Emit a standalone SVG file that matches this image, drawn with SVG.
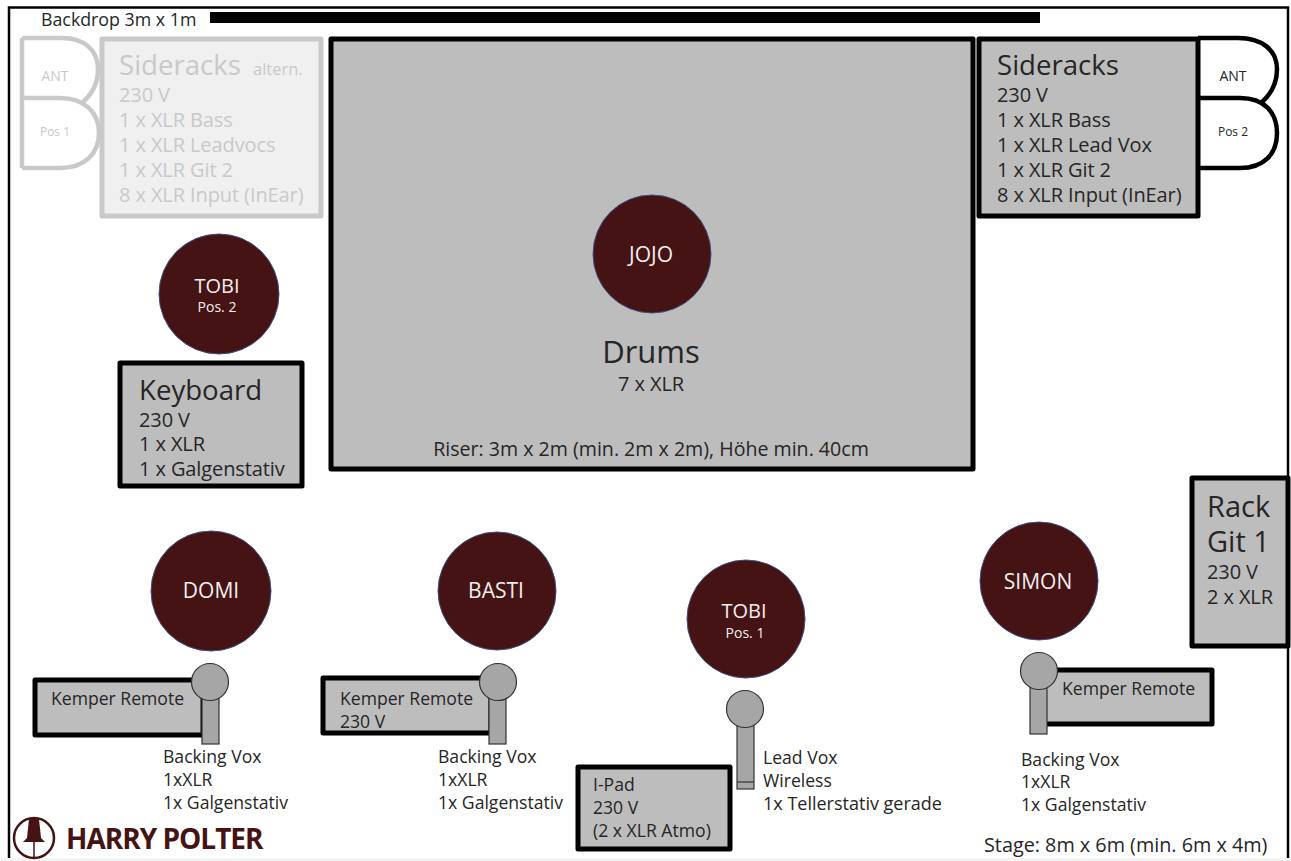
<svg xmlns="http://www.w3.org/2000/svg" width="1291" height="861" viewBox="0 0 1291 861">
<defs>
<style>
text{font-family:"Open Sans","Noto Sans","Liberation Sans",sans-serif;fill:#262626}
.box{fill:#bdbdbd;stroke:#000;stroke-width:5;stroke-linejoin:round}
.ghost{fill:#f0f0f0;stroke:#c9c9c9;stroke-width:5;stroke-linejoin:round}
.ant{fill:#fff;stroke:#000;stroke-width:4.5}
.antg{fill:#fff;stroke:#c9c9c9;stroke-width:4.5}
.p{fill:#451313;stroke:#3f4f86;stroke-width:1}
.pt{fill:#f2eeee;text-anchor:middle;font-size:21px}
.ps{fill:#f2eeee;text-anchor:middle;font-size:14px}
.m{fill:#a6a6a6;stroke:#333;stroke-width:1.2}
.t14{font-size:17.6px}
.t17{font-size:20px;letter-spacing:-.1px}
.t27{font-size:27.6px}
.g{fill:#c9c9c9}
</style>
</defs>
<rect width="1291" height="861" fill="#fff"/>
<path d="M9 861V7.5H1288V861" fill="none" stroke="#000" stroke-width="2.5"/>
<rect x="0" y="858" width="1291" height="3" fill="#f4f4f4"/>
<g id="backdrop"><rect x="210" y="12" width="830" height="11" fill="#000"/><text x="41" y="26" style="font-size:17.800px">Backdrop 3m x 1m</text></g>
<g id="riser"><rect class="box" x="331" y="39" width="642" height="430"/><text x="651" y="363" text-anchor="middle" style="font-size:31px">Drums</text><text x="651" y="391" text-anchor="middle" class="t17">7 x XLR</text><text x="651" y="456" text-anchor="middle" style="font-size:19.600px">Riser: 3m x 2m (min. 2m x 2m), Höhe min. 40cm</text></g>
<g id="siderack-left"><path class="antg" d="M22 38H62C84 38 98 50 98 69C98 84 92 94 83 102"/><path class="antg" d="M22 38V168M22 98H60C84 98 99 112 99 133C99 154 84 168 60 168H22"/><text x="55" y="81" text-anchor="middle" class="g" style="font-size:14px">ANT</text><text x="55" y="136" text-anchor="middle" class="g" style="font-size:12px">Pos 1</text><rect class="ghost" x="102" y="39" width="219" height="177"/><text x="119" y="75" class="g t27">Sideracks</text><text x="253" y="75" class="g" style="font-size:16.500px">altern.</text><text x="119" y="102" class="g t17">230 V</text><text x="119" y="127" class="g t17">1 x XLR Bass</text><text x="119" y="152" class="g t17">1 x XLR Leadvocs</text><text x="119" y="177" class="g t17">1 x XLR Git 2</text><text x="119" y="202" class="g t17">8 x XLR Input (InEar)</text></g>
<g id="siderack-right"><path class="ant" d="M1198 38H1238C1262 38 1277 50 1277 69C1277 84 1271 94 1262 102"/><path class="ant" d="M1198 98H1240C1264 98 1277 112 1277 133C1277 154 1264 168 1240 168H1198"/><text x="1233" y="81" text-anchor="middle" style="font-size:14px">ANT</text><text x="1233" y="136" text-anchor="middle" style="font-size:12px">Pos 2</text><rect class="box" x="979" y="39" width="219" height="177"/><text x="997" y="75" class="t27">Sideracks</text><text x="997" y="102" class="t17">230 V</text><text x="997" y="127" class="t17">1 x XLR Bass</text><text x="997" y="152" class="t17">1 x XLR Lead Vox</text><text x="997" y="177" class="t17">1 x XLR Git 2</text><text x="997" y="202" class="t17">8 x XLR Input (InEar)</text></g>
<g id="jojo"><circle class="p" cx="652" cy="254" r="59"/><text class="pt" x="651" y="262">JOJO</text></g>
<g id="tobi2"><circle class="p" cx="219" cy="294" r="60"/><text class="pt" x="217" y="293" style="font-size:20px">TOBI</text><text class="ps" x="217" y="312">Pos. 2</text></g>
<g id="keyboard"><rect class="box" x="120" y="363" width="182" height="123"/><text x="139" y="400" class="t27">Keyboard</text><text x="139" y="427" class="t17">230 V</text><text x="139" y="451" class="t17">1 x XLR</text><text x="139" y="476" class="t17">1 x Galgenstativ</text></g>
<g id="domi"><circle class="p" cx="211" cy="591" r="60"/><text class="pt" x="211" y="598">DOMI</text></g>
<g id="basti"><circle class="p" cx="497" cy="591" r="59"/><text class="pt" x="496" y="598">BASTI</text></g>
<g id="tobi1"><circle class="p" cx="746" cy="619" r="59"/><text class="pt" x="744" y="618" style="font-size:20px">TOBI</text><text class="ps" x="745" y="638">Pos. 1</text></g>
<g id="simon"><circle class="p" cx="1039" cy="581" r="59"/><text class="pt" x="1038" y="589">SIMON</text></g>
<g id="rack-git"><rect class="box" x="1192" y="478" width="96" height="168"/><text x="1207" y="517" style="font-size:29px">Rack</text><text x="1207" y="552" style="font-size:29px">Git 1</text><text x="1207" y="579" class="t17">230 V</text><text x="1207" y="604" class="t17">2 x XLR</text></g>
<g id="kemper1"><rect class="box" x="35" y="680" width="168" height="55"/><text x="51" y="705" class="t14">Kemper Remote</text><rect class="m" x="202" y="690" width="17" height="54"/><circle class="m" cx="210" cy="682" r="18.500"/><text class="t14" x="163" y="763">Backing Vox</text><text class="t14" x="163" y="786">1xXLR</text><text class="t14" x="163" y="809">1x Galgenstativ</text></g>
<g id="kemper2"><rect class="box" x="323" y="678" width="168" height="55"/><text x="340" y="705" class="t14">Kemper Remote</text><text x="340" y="728" class="t14">230 V</text><rect class="m" x="489" y="690" width="17" height="54"/><circle class="m" cx="498" cy="682" r="18.500"/><text class="t14" x="438" y="763">Backing Vox</text><text class="t14" x="438" y="786">1xXLR</text><text class="t14" x="438" y="809">1x Galgenstativ</text></g>
<g id="leadvox"><rect class="m" x="737" y="720" width="17" height="69"/><path class="m" d="M737 782H754"/><circle class="m" cx="745" cy="709" r="18.500"/><text class="t14" x="763" y="764">Lead Vox</text><text class="t14" x="763" y="787">Wireless</text><text class="t14" x="763" y="810" style="font-size:18px">1x Tellerstativ gerade</text></g>
<g id="ipad"><rect class="box" x="578" y="767" width="152" height="82"/><text x="593" y="791" class="t14">I-Pad</text><text x="593" y="814" class="t14">230 V</text><text x="593" y="837" class="t14">(2 x XLR Atmo)</text></g>
<g id="kemper3"><rect class="box" x="1040" y="670" width="172" height="54"/><text x="1062" y="695" class="t14">Kemper Remote</text><rect class="m" x="1030" y="680" width="17" height="54"/><circle class="m" cx="1039" cy="671" r="18.500"/><text class="t14" x="1021" y="766">Backing Vox</text><text class="t14" x="1021" y="788">1xXLR</text><text class="t14" x="1021" y="811">1x Galgenstativ</text></g>
<g id="stage-label"><text x="984" y="852" style="font-size:19.800px">Stage: 8m x 6m (min. 6m x 4m)</text></g>
<g id="logo"><circle cx="34" cy="838" r="20" fill="none" stroke="#451313" stroke-width="2.500"/><path d="M29 819H39L41 838L45 842H23L27 838Z" fill="#451313"/><path d="M34 842V857" stroke="#451313" stroke-width="1.500"/><text x="66" y="849" style="font-size:28px;font-weight:700;fill:#451313;letter-spacing:-1px">HARRY POLTER</text></g>
<g id="connectors"></g>
</svg>
